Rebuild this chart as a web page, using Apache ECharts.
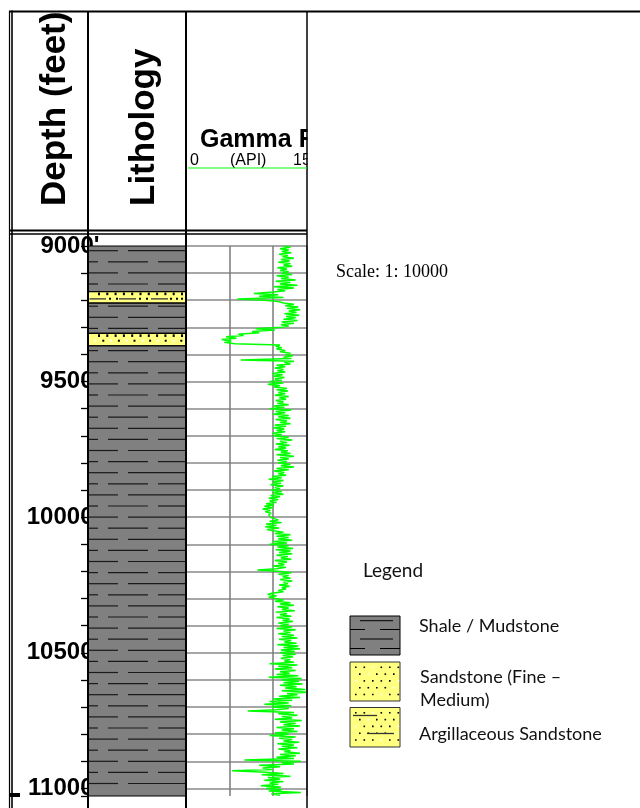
<!DOCTYPE html>
<html><head><meta charset="utf-8">
<script src="https://cdn.jsdelivr.net/npm/echarts/dist/echarts.min.js"></script>
<style>html,body{margin:0;padding:0;background:#fff}#c{width:640px;height:808px}</style>
</head><body><div id="c"></div>
<script>
// ---------------- data ----------------
const depthMin = 9000;
const depthMax = 11028;
const depthTickLabels = [9000, 9500, 10000, 10500, 11000];

const lithTop  = [9000, 9168, 9211, 9322, 9368];
const lithBase = [9168, 9211, 9322, 9368, 11028];
const lithType = ['shale', 'argsand', 'shale', 'sand', 'shale'];

const grAxisMin = 0;
const grAxisMax = 139;          // 0–150 API scale, track clipped
const grStartDepth = 9000;
const grStep = 5;               // ft between samples
const grValues = [
  112,120,108,118,110,121,107,117,111,124,109,119,106,120,112,122,105,116,108,118,
  110,122,104,118,109,126,103,120,108,128,101,124,105,114,100,78,106,84,112,59,
  90,106,112,124,114,129,116,131,118,127,113,130,115,126,112,128,110,124,109,118,
  110,80,102,76,84,60,66,46,58,41,52,44,56,108,103,110,104,114,108,120,
  114,123,112,121,63,124,113,120,104,114,102,112,105,114,99,111,100,113,102,110,
  96,112,94,108,101,116,104,117,106,114,102,118,107,115,103,112,105,118,101,113,
  96,121,103,114,100,118,106,120,103,116,108,120,102,115,100,113,104,114,99,110,
  100,118,104,122,108,116,103,119,106,115,102,117,109,120,104,124,108,118,105,116,
  106,120,109,124,104,118,101,113,106,115,99,110,95,112,100,109,97,112,102,108,
  98,110,100,112,97,108,95,106,96,104,92,101,90,100,88,97,91,98,95,97,
  97,99,106,96,110,92,104,91,107,93,100,112,102,120,104,118,106,122,100,116,
  96,118,105,123,103,120,107,122,104,117,109,121,102,116,106,113,100,115,104,82,
  110,121,106,118,111,120,108,122,112,117,107,119,110,115,106,112,98,94,104,95,
  103,112,102,120,108,124,105,118,110,125,103,116,108,121,104,119,111,123,106,118,
  108,122,104,126,112,120,106,124,110,128,107,121,113,127,105,129,112,131,109,125,
  108,126,111,123,109,120,113,124,96,128,106,122,102,126,108,119,104,129,95,133,
  110,130,112,134,108,127,114,137,110,139,116,128,107,131,100,122,96,118,90,121,
  99,118,104,71,124,106,128,110,122,102,133,108,126,112,131,104,124,110,128,102,
  118,96,126,107,122,112,130,105,124,110,128,106,120,113,131,108,126,104,124,67,
  132,110,124,84,108,88,99,53,92,112,87,120,94,108,90,112,96,106,86,109,
  92,110,95,132,98,108
];

const legendTitle = 'Legend';
const legendLabels = ['Shale / Mudstone', 'Sandstone (Fine \u2013', 'Medium)', 'Argillaceous Sandstone'];
const scaleText = 'Scale: 1: 10000';

// ---------------- styles / helpers ----------------
const GRAY = '#808080', YELLOW = '#ffff80', DASH = '#1a1a1a';
const lithKinds = ['shale', 'sand', 'argsand'];
const SANS = '"Liberation Sans", Arial, sans-serif';

function ln(x1, y1, x2, y2, stroke, w, z) {
  const o = { type: 'line', shape: { x1, y1, x2, y2 }, style: { stroke, lineWidth: w } };
  if (z != null) o.z = z;
  return o;
}
function sq(x, y, w, h, fill) {
  return { type: 'rect', shape: { x, y, width: w, height: h }, style: { fill } };
}
function shaleRows(x0, y0, x1, y1, rowStart, rowGap, segA, segB, w) {
  const out = [];
  let k = Math.ceil((y0 + 2 - rowStart) / rowGap);
  for (; ; k++) {
    const y = rowStart + k * rowGap;
    if (y > y1 - 2) break;
    const segs = (Math.abs(k) % 2 === 0) ? segA : segB;
    segs.forEach(s => out.push(ln(x0 + s[0], y, Math.min(x0 + s[1], x1), y, DASH, w)));
  }
  return out;
}
function sandBed(x0, y0, x1, y1) {
  const out = [];
  for (let x = x0 + 10; x < x1 - 2; x += 8.3) out.push(sq(x, y0 + 1, 2, 2.6, '#000'));
  let i = 0;
  for (let x = x0 + 6.5; x < x1 - 2; x += 7.8, i++) out.push(sq(x, y0 + 6.4, 2, 2, i % 2 ? '#000' : '#fff'));
  return out;
}
function argBed(x0, y0, x1, y1) {
  const out = [];
  for (let x = x0 + 10; x < x1 - 2; x += 8.3) out.push(sq(x, y0 + 1, 2, 2.6, '#000'));
  const segs = [[1.5, 18], [31, 48], [63, 80]];
  segs.forEach(s => out.push(ln(x0 + s[0], y0 + 7.3, x0 + s[1], y0 + 7.3, '#444', 1.4)));
  [21, 28, 51, 58, 82, 88, 93].forEach(d => out.push(sq(x0 + d, y0 + 6.3, 2, 2, '#000')));
  return out;
}

function renderLith(params, api) {
  const top = api.value(0), base = api.value(1), kind = lithKinds[api.value(2)];
  const p0 = api.coord([0, top]), p1 = api.coord([1, base]);
  const colTop = api.coord([0, depthMin])[1];
  const x0 = p0[0], y0 = p0[1], x1 = p1[0], y1 = p1[1];
  const kids = [{
    type: 'rect', shape: { x: x0, y: y0, width: x1 - x0, height: y1 - y0 },
    style: { fill: kind === 'shale' ? GRAY : YELLOW, stroke: '#000', lineWidth: 1.2 }
  }];
  if (kind === 'shale') {
    kids.push(...shaleRows(x0, y0, x1, y1, colTop + 4.7, 11.1,
      [[1, 30], [40, 98]], [[1, 10], [20, 60], [70, 98]], 1.2));
  } else if (kind === 'sand') {
    kids.push(...sandBed(x0, y0, x1, y1));
  } else {
    kids.push(...argBed(x0, y0, x1, y1));
  }
  return { type: 'group', children: kids };
}

// legend swatches (decoration)
function swatchDots(x0, y0, w, h) {
  const out = [];
  let j = 0;
  for (let y = y0 + 4.5; y < y0 + h - 2; y += 6.8, j++) {
    let i = 0;
    for (let x = x0 + 5 + (j % 2) * 4; x < x0 + w - 2; x += 8.5, i++) {
      out.push(sq(x, y, 1.6, 1.6, ((i + j) % 5 === 2) ? '#fff' : '#000'));
    }
  }
  return out;
}
function legendGraphics() {
  const els = [];
  const sx = 350, sw = 50;
  // shale
  els.push({ type: 'rect', shape: { x: sx, y: 616, width: sw, height: 39 }, style: { fill: GRAY, stroke: '#000', lineWidth: 1 } });
  [620.7, 639].forEach(y => els.push(ln(sx + 10, y, sx + 43, y, '#000', 1)));
  [629.5, 648.5].forEach(y => { els.push(ln(sx, y, sx + 15, y, '#000', 1)); els.push(ln(sx + 30, y, sx + sw, y, '#000', 1)); });
  // sandstone
  els.push({ type: 'rect', shape: { x: sx, y: 662, width: sw, height: 39 }, style: { fill: YELLOW, stroke: '#333', lineWidth: 1 } });
  els.push(...swatchDots(sx, 662, sw, 39));
  // argillaceous sandstone
  els.push({ type: 'rect', shape: { x: sx, y: 707.5, width: sw, height: 39.5 }, style: { fill: YELLOW, stroke: '#333', lineWidth: 1 } });
  els.push(...swatchDots(sx, 707.5, sw, 39.5));
  els.push(ln(sx + 3, 715.5, sx + 27, 715.5, '#333', 1.3));
  els.push(ln(sx + 17, 733.5, sx + 44, 733.5, '#333', 1.3));
  els.forEach(e => e.z = 60);
  const lf = 'Lato, "Open Sans", sans-serif';
  const txt = (t, x, y, size) => ({
    type: 'text', x, y, z: 60,
    style: { text: t, fill: '#111', font: size + 'px ' + lf, textAlign: 'left', textVerticalAlign: 'middle', align: 'left', verticalAlign: 'middle' }
  });
  els.push(txt(legendTitle, 363, 571, 19));
  els.push(txt(legendLabels[0], 419, 626, 18));
  els.push(txt(legendLabels[1], 420, 677, 18));
  els.push(txt(legendLabels[2], 420, 700, 18));
  els.push(txt(legendLabels[3], 419, 734, 18));
  return els;
}

function headerGraphics() {
  const els = [];
  const t = (text, x, y, font, extra) => Object.assign({
    type: 'text', x, y, z: 40,
    style: { text, fill: '#000', font, textAlign: 'left', textVerticalAlign: 'middle', align: 'left', verticalAlign: 'middle' }
  }, extra || {});
  els.push(t('Depth (feet)', 55, 206, 'bold 35px ' + SANS, { rotation: Math.PI / 2 }));
  els.push(t('Lithology', 144, 206, 'bold 35px ' + SANS, { rotation: Math.PI / 2 }));
  els.push(t('Gamma Ray', 200, 140, 'bold 25px ' + SANS));
  els.push(t('0', 190, 160.5, '16px ' + SANS));
  els.push(t('(API)', 230, 160.5, '16px ' + SANS));
  els.push(t('150', 293, 160.5, '16px ' + SANS));
  // white covers: clip header text at track border and top frame
  els.push({ type: 'rect', z: 50, shape: { x: 307.5, y: 100, width: 333, height: 80 }, style: { fill: '#fff' } });
  els.push({ type: 'rect', z: 50, shape: { x: 0, y: 0, width: 640, height: 10.6 }, style: { fill: '#fff' } });
  // scale text
  els.push({ type: 'text', x: 336, y: 272, z: 60,
    style: { text: scaleText, fill: '#000', font: '18px "Liberation Serif", "Times New Roman", serif', textAlign: 'left', textVerticalAlign: 'middle', align: 'left', verticalAlign: 'middle' } });
  // frame
  els.push(ln(10, 11.5, 640, 11.5, '#000', 2, 100));
  els.push(ln(9.5, 10.5, 9.5, 808, '#000', 1.2, 100));
  els.push(ln(12, 10.5, 12, 808, '#000', 1.6, 100));
  els.push(ln(88, 11, 88, 808, '#000', 2, 100));
  els.push(ln(186, 11, 186, 808, '#000', 2, 100));
  els.push(ln(307, 11, 307, 808, '#000', 1.5, 100));
  els.push(ln(10, 230.5, 307, 230.5, '#000', 2, 100));
  els.push(ln(10, 234, 307, 234, '#000', 1.5, 100));
  els.push(ln(188, 168, 307, 168, '#00ff00', 1.2, 100));
  els.push({ type: 'rect', z: 100, shape: { x: 9, y: 793, width: 11, height: 4 }, style: { fill: '#000' } });
  return els;
}

// ---------------- chart ----------------
const chart = echarts.init(document.getElementById('c'), null, { renderer: 'canvas' });
const lithData = lithTop.map((t, i) => [t, lithBase[i], lithKinds.indexOf(lithType[i])]);
const grData = grValues.map((v, i) => [v, grStartDepth + i * grStep]);
const hiddenX = (gi) => ({ gridIndex: gi, type: 'value', min: 0, max: 1, show: false });
const depthFont = { fontFamily: SANS, fontWeight: 'bold', fontSize: 24, color: '#000' };

chart.setOption({
  animation: false,
  backgroundColor: '#fff',
  textStyle: { fontFamily: SANS },
  grid: [
    { left: 12, top: 246, width: 76, height: 550, outerBoundsMode: 'none' },
    { left: 88, top: 246, width: 98, height: 550, outerBoundsMode: 'none' },
    { left: 186, top: 246, width: 121, height: 550, outerBoundsMode: 'none' }
  ],
  xAxis: [
    hiddenX(0), hiddenX(1),
    { gridIndex: 2, type: 'value', min: grAxisMin, max: grAxisMax, interval: 50,
      axisLine: { show: false }, axisTick: { show: false }, axisLabel: { show: false },
      splitLine: { show: true, lineStyle: { color: '#7a7a7a', width: 1.5 } } }
  ],
  yAxis: [
    { gridIndex: 0, type: 'value', inverse: true, min: depthMin, max: depthMax, interval: 500, position: 'right',
      axisLine: { show: false }, axisTick: { show: false }, splitLine: { show: false },
      axisLabel: {
        inside: true, margin: -11.5,
        formatter: v => depthTickLabels.indexOf(v) < 0 ? '' : (v === depthMin ? '{a|' + v + "'}" : '{b|' + v + '}'),
        rich: { a: Object.assign({}, depthFont), b: Object.assign({ padding: [0, 6, 0, 0] }, depthFont) }
      } },
    { gridIndex: 1, type: 'value', inverse: true, min: depthMin, max: depthMax, interval: 100, position: 'left',
      axisLine: { show: true, lineStyle: { color: '#000', width: 2 } },
      axisTick: { show: true, length: 7, lineStyle: { color: '#000', width: 1.3 } },
      axisLabel: { show: false }, splitLine: { show: false } },
    { gridIndex: 2, type: 'value', inverse: true, min: depthMin, max: depthMax, interval: 100,
      axisLine: { show: false }, axisTick: { show: false }, axisLabel: { show: false },
      splitLine: { show: true, showMaxLine: false, lineStyle: { color: '#888888', width: 1.6 } } }
  ],
  series: [
    { type: 'custom', name: 'Lithology', xAxisIndex: 1, yAxisIndex: 1,
      dimensions: ['top', 'base', 'kind'], encode: { y: [0, 1] },
      renderItem: renderLith, data: lithData, silent: true, z: 3 },
    { type: 'line', name: 'Gamma Ray', xAxisIndex: 2, yAxisIndex: 2, data: grData,
      symbol: 'none', showSymbol: false, clip: true, silent: true,
      lineStyle: { color: '#00ff00', width: 1.5 }, z: 3 }
  ],
  graphic: { elements: headerGraphics().concat(legendGraphics()) }
});
</script></body></html>
